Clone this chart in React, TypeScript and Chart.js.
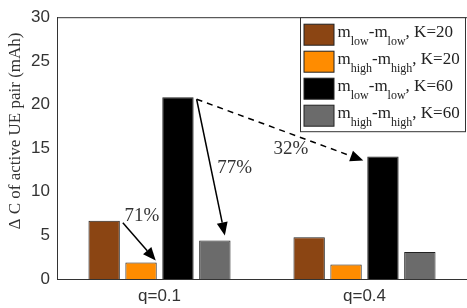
import React, { useEffect, useRef } from "react";
import { Chart, registerables } from "chart.js";

Chart.register(...registerables);

const categories = ["q=0.1", "q=0.4"];
const lowLowK20 = [6.68, 4.79];
const highHighK20 = [1.89, 1.66];
const lowLowK60 = [20.83, 14.04];
const highHighK60 = [4.42, 3.09];
const yTicks = [0, 5, 10, 15, 20, 25, 30];
const legendRows = [
  { sub: "low", k: "20" },
  { sub: "high", k: "20" },
  { sub: "low", k: "60" },
  { sub: "high", k: "60" },
];
const percentLabels = ["71%", "77%", "32%"];
const yTitle = "\u0394 C of active UE pair (mAh)";

const colors = ["#8B4513", "#FF8C00", "#000000", "#6B6B6B"];
const SERIF = "'Liberation Serif', 'Times New Roman', serif";
const SANS = "'Liberation Sans', Arial, sans-serif";

function drawArrow(ctx: CanvasRenderingContext2D, x1: number, y1: number, x2: number, y2: number, dashed: boolean) {
  const ang = Math.atan2(y2 - y1, x2 - x1);
  const hl = 13;
  const hw = 5.5;
  const bx = x2 - hl * Math.cos(ang);
  const by = y2 - hl * Math.sin(ang);
  ctx.save();
  ctx.strokeStyle = "#000";
  ctx.fillStyle = "#000";
  ctx.lineWidth = 1.5;
  if (dashed) ctx.setLineDash([6, 5]);
  ctx.beginPath();
  ctx.moveTo(x1, y1);
  ctx.lineTo(bx, by);
  ctx.stroke();
  ctx.setLineDash([]);
  ctx.beginPath();
  ctx.moveTo(x2, y2);
  ctx.lineTo(bx + hw * Math.sin(ang), by - hw * Math.cos(ang));
  ctx.lineTo(bx - hw * Math.sin(ang), by + hw * Math.cos(ang));
  ctx.closePath();
  ctx.fill();
  ctx.restore();
}

const overlay = {
  id: "overlay",
  afterDraw(chart: any) {
    const ctx: CanvasRenderingContext2D = chart.ctx;
    const ca = chart.chartArea;
    const bar = (d: number, i: number) => chart.getDatasetMeta(d).data[i] as any;

    ctx.save();
    // top border
    ctx.strokeStyle = "#333";
    ctx.lineWidth = 1;
    ctx.beginPath();
    ctx.moveTo(ca.left, ca.top + 0.5);
    ctx.lineTo(ca.right, ca.top + 0.5);
    ctx.stroke();

    // arrows
    const b00 = bar(0, 0), b10 = bar(1, 0), b20 = bar(2, 0), b30 = bar(3, 0), b21 = bar(2, 1);
    const a1s = [b00.x + b00.width / 2 + 3, b00.y + 2];
    const a1e = [b10.x + b10.width / 2 - 1, b10.y - 2];
    drawArrow(ctx, a1s[0], a1s[1], a1e[0], a1e[1], false);
    const a2s = [b20.x + b20.width / 2 + 3, b20.y + 2];
    const a2e = [b30.x + 10, b30.y - 5];
    drawArrow(ctx, a2s[0], a2s[1], a2e[0], a2e[1], false);
    const a3s = [b20.x + b20.width / 2 + 3, b20.y + 2];
    const a3e = [b21.x - b21.width / 2 - 4, b21.y + 4];
    drawArrow(ctx, a3s[0], a3s[1], a3e[0], a3e[1], true);

    ctx.fillStyle = "#333";
    ctx.font = `19px ${SERIF}`;
    ctx.textAlign = "center";
    ctx.textBaseline = "middle";
    ctx.fillText(percentLabels[0], b00.x + b00.width / 2 + 22, b00.y - 5);
    ctx.fillText(percentLabels[1], (a2s[0] + a2e[0]) / 2 + 24, (a2s[1] + a2e[1]) / 2 + 1);
    ctx.fillText(percentLabels[2], (a3s[0] + a3e[0]) / 2 + 11, (a3s[1] + a3e[1]) / 2 + 19);

    // legend
    const lx = ca.right - 166.5;
    const ly = ca.top + 0.5;
    const lw = 165;
    const lh = 114;
    ctx.fillStyle = "#fff";
    ctx.fillRect(lx, ly, lw, lh);
    ctx.strokeStyle = "#333";
    ctx.lineWidth = 1;
    ctx.strokeRect(lx, ly, lw, lh);
    legendRows.forEach((r, i) => {
      const cy = ly + 17 + i * 27;
      ctx.fillStyle = colors[i];
      ctx.fillRect(lx + 3.5, cy - 10.5, 30, 21);
      ctx.strokeStyle = "#222";
      ctx.strokeRect(lx + 3.5, cy - 10.5, 30, 21);
      ctx.fillStyle = "#222";
      ctx.textAlign = "left";
      ctx.textBaseline = "alphabetic";
      let x = lx + 37;
      const mainY = cy + 2;
      const subY = cy + 10;
      const put = (t: string, sub: boolean) => {
        ctx.font = sub ? `12px ${SERIF}` : `17px ${SERIF}`;
        ctx.fillText(t, x, sub ? subY : mainY);
        x += ctx.measureText(t).width;
      };
      put("m", false);
      put(r.sub, true);
      put("-m", false);
      put(r.sub, true);
      put(", K=" + r.k, false);
    });

    // y title
    ctx.save();
    ctx.translate(16, 131);
    ctx.rotate(-Math.PI / 2);
    ctx.fillStyle = "#333";
    ctx.font = `17px ${SERIF}`;
    ctx.textAlign = "center";
    ctx.textBaseline = "middle";
    ctx.fillText(yTitle, 0, 0);
    ctx.restore();

    ctx.restore();
  },
};

export default function App() {
  const ref = useRef<HTMLCanvasElement | null>(null);
  useEffect(() => {
    if (!ref.current) return;
    const mk = (label: string, data: number[], i: number) => ({
      label,
      data,
      backgroundColor: colors[i],
      borderColor: "#222",
      borderWidth: 1,
      categoryPercentage: 0.72,
      barPercentage: 0.85,
    });
    const chart = new Chart(ref.current, {
      type: "bar",
      data: {
        labels: categories,
        datasets: [
          mk("m_low-m_low, K=20", lowLowK20, 0),
          mk("m_high-m_high, K=20", highHighK20, 1),
          mk("m_low-m_low, K=60", lowLowK60, 2),
          mk("m_high-m_high, K=60", highHighK60, 3),
        ],
      },
      options: {
        responsive: false,
        animation: false,
        layout: { padding: { top: 14, right: 0, left: 0, bottom: 0 } },
        plugins: { legend: { display: false }, tooltip: { enabled: false } },
        scales: {
          x: {
            grid: { display: false, drawTicks: false },
            border: { display: true, color: "#333", width: 1 },
            ticks: { color: "#333", font: { family: SANS, size: 17 }, padding: 7 },
            afterFit: (s: any) => { s.height = 29; },
          },
          y: {
            min: 0,
            max: 30,
            afterBuildTicks: (s: any) => { s.ticks = yTicks.map((v) => ({ value: v })); },
            grid: { display: false, drawTicks: false },
            border: { display: true, color: "#333", width: 1 },
            ticks: { color: "#333", font: { family: SANS, size: 17 }, padding: 7 },
            afterFit: (s: any) => { s.width = 57; },
          },
        },
      },
      plugins: [overlay],
    });
    return () => chart.destroy();
  }, []);
  return (
    <div style={{ position: "fixed", left: 0, top: 0, width: 467, height: 308, background: "#fff" }}>
      <canvas ref={ref} width={467} height={308} style={{ width: 467, height: 308 }} />
    </div>
  );
}
